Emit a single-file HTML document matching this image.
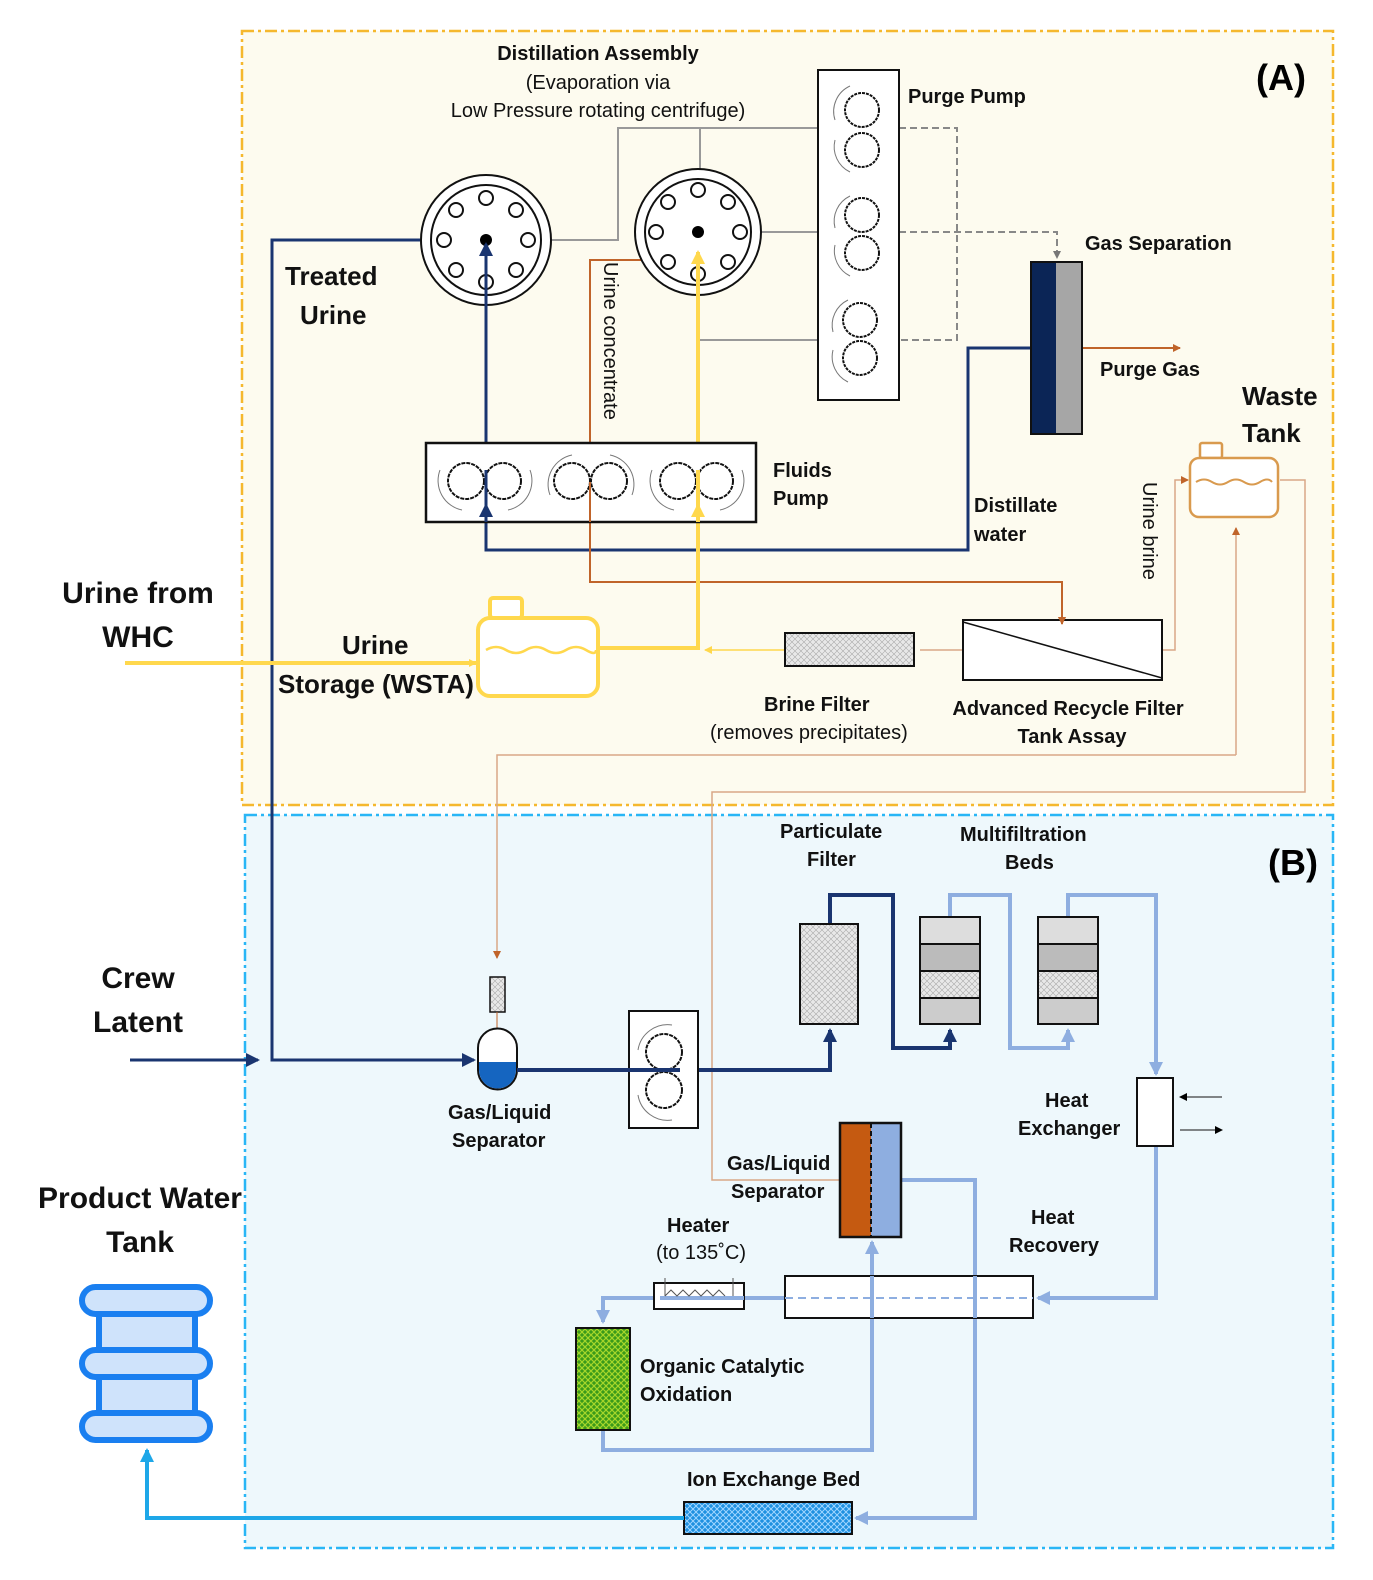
<!DOCTYPE html>
<html><head><meta charset="utf-8"><style>
body{margin:0;background:#fff}
svg{display:block;font-family:"Liberation Sans",sans-serif}
.b{font-weight:bold}
</style></head><body>
<svg width="1373" height="1580" viewBox="0 0 1373 1580" xmlns="http://www.w3.org/2000/svg">
<defs>
<marker id="ay" markerWidth="8" markerHeight="8" refX="7" refY="4" orient="auto" markerUnits="userSpaceOnUse"><path d="M0,0L8,4L0,8z" fill="#ffd84d"/></marker>
<marker id="an" markerWidth="14" markerHeight="14" refX="12" refY="7" orient="auto" markerUnits="userSpaceOnUse"><path d="M0,0L14,7L0,14z" fill="#1a3570"/></marker>
<marker id="ayb" markerWidth="14" markerHeight="14" refX="12" refY="7" orient="auto" markerUnits="userSpaceOnUse"><path d="M0,0L14,7L0,14z" fill="#ffd84d"/></marker>
<marker id="ab" markerWidth="8" markerHeight="8" refX="7" refY="4" orient="auto" markerUnits="userSpaceOnUse"><path d="M0,0L8,4L0,8z" fill="#c0642a"/></marker>
<marker id="ag" markerWidth="8" markerHeight="8" refX="7" refY="4" orient="auto" markerUnits="userSpaceOnUse"><path d="M0,0L8,4L0,8z" fill="#777"/></marker>
<marker id="al" markerWidth="14" markerHeight="14" refX="12" refY="7" orient="auto" markerUnits="userSpaceOnUse"><path d="M0,0L14,7L0,14z" fill="#8eaee0"/></marker>
<marker id="ac" markerWidth="14" markerHeight="14" refX="12" refY="7" orient="auto" markerUnits="userSpaceOnUse"><path d="M0,0L14,7L0,14z" fill="#1ea7e8"/></marker>
<marker id="ak" markerWidth="8" markerHeight="8" refX="7" refY="4" orient="auto" markerUnits="userSpaceOnUse"><path d="M0,0L8,4L0,8z" fill="#000"/></marker>
<pattern id="hx" width="6" height="6" patternUnits="userSpaceOnUse"><rect width="6" height="6" fill="#e8e8e8"/><path d="M0,0L6,6M6,0L0,6" stroke="#aaa" stroke-width="0.6"/></pattern>
<pattern id="gr" width="6" height="6" patternUnits="userSpaceOnUse"><rect width="6" height="6" fill="#3a9a1a"/><path d="M0,0L6,6M6,0L0,6" stroke="#a6d62a" stroke-width="1.2"/></pattern>
<pattern id="bl" width="6" height="6" patternUnits="userSpaceOnUse"><rect width="6" height="6" fill="#1e90e0"/><path d="M0,0L6,6M6,0L0,6" stroke="#9fd5ff" stroke-width="1"/></pattern>
</defs>

<rect x="242" y="31" width="1091" height="774" fill="#fdfbef" stroke="#f5b82e" stroke-width="2.5" stroke-dasharray="12,4,3,4"/>
<rect x="245" y="815" width="1088" height="733" fill="#eef8fc" stroke="#29b6f6" stroke-width="2.5" stroke-dasharray="12,4,3,4"/>
<text x="1256" y="90" class="b" font-size="36">(A)</text>
<text x="1268" y="875" class="b" font-size="36">(B)</text>

<g fill="none" stroke="#999" stroke-width="2">
<path d="M551,240H618V128H818"/>
<path d="M700,185V128"/>
<path d="M761,232H818"/>
<path d="M698,270V340H818"/>
</g>
<g fill="none" stroke="#888" stroke-width="2" stroke-dasharray="7,4">
<path d="M899,128H957V340H899"/>
<path d="M899,232H1057V258" marker-end="url(#ag)"/>
</g>

<g fill="none" stroke="#1a3570" stroke-width="3">
<path d="M1031,348H968V550H486V244" marker-end="url(#an)"/>
<path d="M420,240H272V1060H474" marker-end="url(#an)"/>
<path d="M130,1060H258" marker-end="url(#an)"/>
</g>
<g fill="none" stroke="#c0642a" stroke-width="2">
<path d="M668,260H590V462" marker-end="url(#ab)"/>
<path d="M590,500V582H1062V624" marker-end="url(#ab)"/>
<path d="M1080,348H1180" marker-end="url(#ab)"/>
</g>
<g fill="none" stroke="#d9a887" stroke-width="1.5">
<path d="M1162,650H1175V480H1188" marker-end="url(#ab)"/>
<path d="M963,650H920"/>
<path d="M1236,755V528" marker-end="url(#ab)"/>
<path d="M1236,755H497V958" marker-end="url(#ab)"/>
<path d="M1280,480H1305V792H712V1180H840"/>
</g>
<path d="M125,663H476" stroke="#ffd84d" stroke-width="4" fill="none" marker-end="url(#ay)"/>
<path d="M598,648H698V252" stroke="#ffd84d" stroke-width="4" fill="none" marker-end="url(#ayb)"/>
<path d="M785,650H705" stroke="#ffd84d" stroke-width="1.5" fill="none" marker-end="url(#ay)"/>

<g fill="none" stroke="#111" stroke-width="2">
<circle cx="486" cy="240" r="65" fill="#fff"/><circle cx="486" cy="240" r="55"/>
<circle cx="698" cy="232" r="63" fill="#fff"/><circle cx="698" cy="232" r="53"/>
</g>
<g fill="#fff" stroke="#111" stroke-width="2">
<circle cx="486" cy="198" r="7"/><circle cx="516" cy="210" r="7"/><circle cx="528" cy="240" r="7"/><circle cx="516" cy="270" r="7"/><circle cx="486" cy="282" r="7"/><circle cx="456" cy="270" r="7"/><circle cx="444" cy="240" r="7"/><circle cx="456" cy="210" r="7"/>
<circle cx="698" cy="190" r="7"/><circle cx="728" cy="202" r="7"/><circle cx="740" cy="232" r="7"/><circle cx="728" cy="262" r="7"/><circle cx="698" cy="274" r="7"/><circle cx="668" cy="262" r="7"/><circle cx="656" cy="232" r="7"/><circle cx="668" cy="202" r="7"/>
</g>
<circle cx="486" cy="240" r="6" fill="#000"/><circle cx="698" cy="232" r="6" fill="#000"/>
<path d="M486,550V244" stroke="#1a3570" stroke-width="3" marker-end="url(#an)"/>
<path d="M698,300V252" stroke="#ffd84d" stroke-width="4" marker-end="url(#ayb)"/>

<rect x="818" y="70" width="81" height="330" fill="#fff" stroke="#111" stroke-width="2"/>
<g fill="#fff" stroke="#111" stroke-width="2">
<circle cx="862" cy="110" r="17" stroke-dasharray="3,1"/><circle cx="862" cy="150" r="17" stroke-dasharray="3,1"/>
<circle cx="862" cy="215" r="17" stroke-dasharray="3,1"/><circle cx="862" cy="253" r="17" stroke-dasharray="3,1"/>
<circle cx="860" cy="320" r="17" stroke-dasharray="3,1"/><circle cx="860" cy="358" r="17" stroke-dasharray="3,1"/>
</g>
<g fill="none" stroke="#777" stroke-width="1"><path d="M850,86A28,28 0 0 0 835,120"/><path d="M850,196A28,28 0 0 0 835,228"/><path d="M848,300A28,28 0 0 0 833,332"/><path d="M835,140A28,28 0 0 0 850,172"/><path d="M835,245A28,28 0 0 0 850,276"/><path d="M833,350A28,28 0 0 0 848,382"/></g>

<rect x="1031" y="262" width="25" height="172" fill="#0b2556"/>
<rect x="1056" y="262" width="26" height="172" fill="#a6a6a6"/>
<rect x="1031" y="262" width="51" height="172" fill="none" stroke="#111" stroke-width="2"/>

<rect x="426" y="443" width="330" height="79" fill="#fff" stroke="#111" stroke-width="2.5"/>
<g fill="#fff" stroke="#111" stroke-width="2" stroke-dasharray="4,1">
<circle cx="466" cy="481" r="18"/><circle cx="503" cy="481" r="18"/>
<circle cx="572" cy="481" r="18"/><circle cx="609" cy="481" r="18"/>
<circle cx="678" cy="481" r="18"/><circle cx="715" cy="481" r="18"/>
</g>
<g fill="none" stroke="#777" stroke-width="1"><path d="M440,470A30,30 0 0 0 462,510"/><path d="M530,470A30,30 0 0 1 508,510"/><path d="M550,495A30,30 0 0 1 572,455"/><path d="M632,495A30,30 0 0 0 610,455"/><path d="M652,470A30,30 0 0 0 674,510"/><path d="M742,470A30,30 0 0 1 720,510"/></g>
<path d="M486,522V505" stroke="#1a3570" stroke-width="3" marker-end="url(#an)"/>
<path d="M698,522V505" stroke="#ffd84d" stroke-width="4" marker-end="url(#ayb)"/>
<path d="M590,482V522" stroke="#c0642a" stroke-width="2"/>
<path d="M486,470V510" stroke="#1a3570" stroke-width="3"/>
<path d="M698,470V510" stroke="#ffd84d" stroke-width="4"/>

<rect x="1200" y="443" width="22" height="15" rx="2" fill="#fff" stroke="#d99a4e" stroke-width="2.5"/>
<rect x="1190" y="458" width="88" height="59" rx="9" fill="#fff" stroke="#d99a4e" stroke-width="2.5"/>
<path d="M1196,482q8,-5 16,0t16,0t16,0t16,0t12,0" fill="none" stroke="#d99a4e" stroke-width="2"/>

<rect x="490" y="598" width="32" height="20" rx="3" fill="#fff" stroke="#ffd84d" stroke-width="4"/>
<rect x="478" y="618" width="120" height="78" rx="12" fill="#fff" stroke="#ffd84d" stroke-width="4"/>
<path d="M486,650q10,-6 20,0t20,0t20,0t20,0t20,0t10,0" fill="none" stroke="#ffd84d" stroke-width="2.5"/>

<rect x="785" y="633" width="129" height="33" fill="url(#hx)" stroke="#111" stroke-width="2"/>
<rect x="963" y="620" width="199" height="60" fill="#fff" stroke="#111" stroke-width="2"/>
<path d="M963,622L1162,678" stroke="#111" stroke-width="1.5"/>
<path d="M1062,600V624" stroke="#c0642a" stroke-width="2" marker-end="url(#ab)"/>

<rect x="490" y="977" width="15" height="35" fill="url(#hx)" stroke="#111" stroke-width="1.5"/>
<path d="M497,1030V1012" stroke="#c0642a" stroke-width="1"/>
<path d="M478,1060V1048a19.5,19.5 0 0 1 39,0V1070a19.5,19.5 0 0 1 -39,0z" fill="#fff" stroke="#111" stroke-width="2"/>
<path d="M479,1062H516V1070a18.5,18.5 0 0 1 -37,0z" fill="#1565c0"/>
<path d="M517,1070H830V1030" fill="none" stroke="#1a3570" stroke-width="4" marker-end="url(#an)"/>
<rect x="629" y="1011" width="69" height="117" fill="#fff" stroke="#111" stroke-width="2"/>
<g fill="#fff" stroke="#111" stroke-width="2" stroke-dasharray="4,1"><circle cx="664" cy="1052" r="18"/><circle cx="664" cy="1090" r="18"/></g>
<g fill="none" stroke="#777" stroke-width="1"><path d="M672,1025A30,30 0 0 0 638,1050"/><path d="M638,1095A30,30 0 0 0 672,1120"/></g>
<path d="M517,1070H680" stroke="#1a3570" stroke-width="4" fill="none"/>

<path d="M830,924V895H893V1048H950V1030" fill="none" stroke="#1a3570" stroke-width="4" marker-end="url(#an)"/>
<rect x="800" y="924" width="58" height="100" fill="url(#hx)" stroke="#111" stroke-width="2"/>
<g fill="none" stroke="#8eaee0" stroke-width="4">
<path d="M950,917V895H1010V1048H1068V1030" marker-end="url(#al)"/>
<path d="M1068,917V895H1156V1074" marker-end="url(#al)"/>
<path d="M1156,1146V1298H1038" marker-end="url(#al)"/>
<path d="M785,1298H603V1322" marker-end="url(#al)"/>
<path d="M603,1430V1450H872V1242" marker-end="url(#al)"/>
<path d="M901,1180H975V1518H856" marker-end="url(#al)"/>
</g>
<g stroke="#111" stroke-width="2">
<rect x="920" y="917" width="60" height="27" fill="#ddd"/><rect x="920" y="944" width="60" height="27" fill="#bbb"/><rect x="920" y="971" width="60" height="27" fill="url(#hx)"/><rect x="920" y="998" width="60" height="26" fill="#ccc"/>
<rect x="1038" y="917" width="60" height="27" fill="#ddd"/><rect x="1038" y="944" width="60" height="27" fill="#bbb"/><rect x="1038" y="971" width="60" height="27" fill="url(#hx)"/><rect x="1038" y="998" width="60" height="26" fill="#ccc"/>
</g>
<rect x="1137" y="1078" width="36" height="68" fill="#fff" stroke="#111" stroke-width="2"/>
<path d="M1222,1097H1180" stroke="#111" stroke-width="1" marker-end="url(#ak)"/>
<path d="M1180,1130H1222" stroke="#111" stroke-width="1" marker-end="url(#ak)"/>
<rect x="785" y="1276" width="248" height="42" fill="#fff" stroke="#111" stroke-width="2"/>
<path d="M785,1298H1033" stroke="#8eaee0" stroke-width="2" stroke-dasharray="8,5"/>
<path d="M872,1318V1276M975,1318V1276" stroke="#8eaee0" stroke-width="4"/>
<rect x="654" y="1283" width="90" height="26" fill="#fff" stroke="#111" stroke-width="2"/>
<path d="M660,1298H744" stroke="#8eaee0" stroke-width="4"/>
<path d="M665,1296l6,-6l6,6l6,-6l6,6l6,-6l6,6l6,-6l6,6l6,-6l6,6M665,1296V1278M733,1296V1278" fill="none" stroke="#555" stroke-width="1"/>
<rect x="576" y="1328" width="54" height="102" fill="url(#gr)" stroke="#111" stroke-width="2"/>
<rect x="840" y="1123" width="31" height="114" fill="#c55a11"/>
<rect x="871" y="1123" width="30" height="114" fill="#8eaee0"/>
<rect x="840" y="1123" width="61" height="114" fill="none" stroke="#111" stroke-width="2.5"/>
<path d="M871,1123V1237" stroke="#111" stroke-width="2" stroke-dasharray="5,3"/>
<rect x="684" y="1502" width="168" height="32" fill="url(#bl)" stroke="#111" stroke-width="2"/>
<path d="M684,1518H147V1450" fill="none" stroke="#1ea7e8" stroke-width="4" marker-end="url(#ac)"/>

<g stroke="#1a7ff0" stroke-width="6" stroke-linejoin="round" stroke-linecap="round">
<rect x="99" y="1300" width="96" height="125" fill="#cfe3fb" stroke="none"/>
<path d="M99,1314V1350M195,1314V1350M99,1377V1413M195,1377V1413" fill="none"/>
<rect x="82" y="1287" width="128" height="27" rx="13.5" fill="#cfe3fb"/>
<rect x="82" y="1350" width="128" height="27" rx="13.5" fill="#cfe3fb"/>
<rect x="82" y="1413" width="128" height="27" rx="13.5" fill="#cfe3fb"/>
<path d="M100,1314H147M172,1314H195M100,1350H120M145,1350H195M100,1377H147M172,1377H195M100,1413H120M145,1413H195" fill="none"/>
</g>

<g font-size="20" fill="#111">
<text x="598" y="60" text-anchor="middle" class="b">Distillation Assembly</text>
<text x="598" y="89" text-anchor="middle">(Evaporation via</text>
<text x="598" y="117" text-anchor="middle">Low Pressure rotating centrifuge)</text>
<text x="908" y="103" class="b">Purge Pump</text>
<text x="1085" y="250" class="b">Gas Separation</text>
<text x="1100" y="376" class="b">Purge Gas</text>
<text x="773" y="477" class="b">Fluids</text>
<text x="773" y="505" class="b">Pump</text>
<text x="974" y="512" class="b">Distillate</text>
<text x="974" y="541" class="b">water</text>
<text x="764" y="711" class="b">Brine Filter</text>
<text x="710" y="739">(removes precipitates)</text>
<text x="1068" y="715" text-anchor="middle" class="b">Advanced Recycle Filter</text>
<text x="1072" y="743" text-anchor="middle" class="b">Tank Assay</text>
<text transform="translate(604,262) rotate(90)">Urine concentrate</text>
<text transform="translate(1143,482) rotate(90)">Urine brine</text>
<text x="780" y="838" class="b">Particulate</text>
<text x="807" y="866" class="b">Filter</text>
<text x="960" y="841" class="b">Multifiltration</text>
<text x="1005" y="869" class="b">Beds</text>
<text x="448" y="1119" class="b">Gas/Liquid</text>
<text x="452" y="1147" class="b">Separator</text>
<text x="1045" y="1107" class="b">Heat</text>
<text x="1018" y="1135" class="b">Exchanger</text>
<text x="727" y="1170" class="b">Gas/Liquid</text>
<text x="731" y="1198" class="b">Separator</text>
<text x="1031" y="1224" class="b">Heat</text>
<text x="1009" y="1252" class="b">Recovery</text>
<text x="667" y="1232" class="b">Heater</text>
<text x="656" y="1259">(to 135˚C)</text>
<text x="640" y="1373" class="b">Organic Catalytic</text>
<text x="640" y="1401" class="b">Oxidation</text>
<text x="687" y="1486" class="b">Ion Exchange Bed</text>
</g>
<g font-size="26" fill="#111" class="b">
<text x="285" y="285">Treated</text>
<text x="300" y="324">Urine</text>
<text x="1242" y="405">Waste</text>
<text x="1242" y="442">Tank</text>
<text x="342" y="654">Urine</text>
<text x="278" y="693">Storage (WSTA)</text>
</g>
<g font-size="30" fill="#111" class="b" text-anchor="middle">
<text x="138" y="603">Urine from</text>
<text x="138" y="647">WHC</text>
<text x="138" y="988">Crew</text>
<text x="138" y="1032">Latent</text>
<text x="140" y="1208">Product Water</text>
<text x="140" y="1252">Tank</text>
</g>
</svg>
</body></html>
